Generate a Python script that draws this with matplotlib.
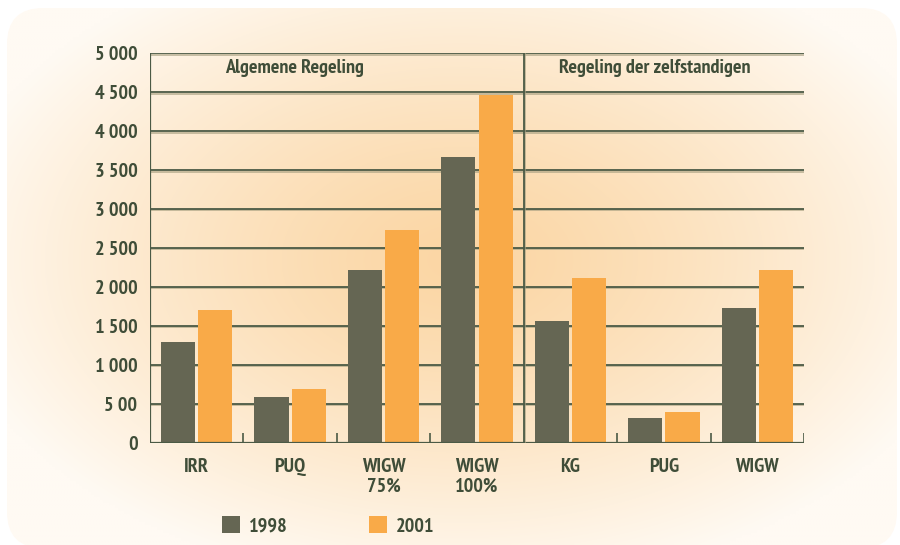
import matplotlib
matplotlib.use('Agg')
import matplotlib.pyplot as plt
import matplotlib.patheffects as pe
from matplotlib import font_manager
from matplotlib.patches import FancyBboxPatch, Patch
import numpy as np

# data
categories = ['IRR', 'PUQ', 'WIGW\n75%', 'WIGW\n100%', 'KG', 'PUG', 'WIGW']
vals_1998 = [1290, 590, 2220, 3670, 1560, 320, 1730]
vals_2001 = [1700, 690, 2730, 4470, 2110, 390, 2220]
series_names = ['1998', '2001']
group_names = ['Algemene Regeling', 'Regeling der zelfstandigen']
ytick_vals = [0, 500, 1000, 1500, 2000, 2500, 3000, 3500, 4000, 4500, 5000]
ytick_labels = ['0', '5 00', '1 000', '1 500', '2 000', '2 500',
                '3 000', '3 500', '4 000', '4 500', '5 000']

# styling
dark = '#656653'
orange = '#f9aa48'
line_col = '#4b5a45'
text_col = '#3f4d38'


# the original uses a condensed semi-bold sans, find the closest installed face
def wnum(w):
    return w if isinstance(w, int) else font_manager.weight_dict.get(w, 400)


cands = [f for f in font_manager.fontManager.ttflist
         if ('Narrow' in f.fname or 'Condensed' in f.fname)
         and f.style == 'normal' and 'Italic' not in f.fname and 'Oblique' not in f.fname]
face = None
if cands:
    face = min(cands, key=lambda f: (('Narrow' not in f.fname and 'Roboto' not in f.fname),
                                     abs(wnum(f.weight) - 650)))
if face is not None:
    fonts = [face.name, 'DejaVu Sans']
    stretch = face.stretch
    wt = wnum(face.weight)
else:
    fonts = ['Roboto', 'DejaVu Sans']
    stretch = 'normal'
    wt = 'bold'
fs = 14.5
plt.rcParams['font.family'] = fonts
plt.rcParams['font.stretch'] = stretch

fig = plt.figure(figsize=(9, 5.45), dpi=100)
fig.patch.set_facecolor('white')

# background card with radial gradient
bg = fig.add_axes([0, 0, 1, 1])
bg.set_xlim(0, 900)
bg.set_ylim(545, 0)
bg.axis('off')
gx, gy = np.meshgrid(np.linspace(0, 900, 300), np.linspace(0, 545, 200))
r = np.sqrt(((gx - 460) / 520) ** 2 + ((gy - 260) / 330) ** 2)
r = np.clip(r, 0, 1)
c_in = np.array([251, 214, 164]) / 255
c_out = np.array([255, 250, 243]) / 255
img = c_in[None, None, :] * (1 - r[..., None] ** 1.3) + c_out[None, None, :] * (r[..., None] ** 1.3)
im = bg.imshow(img, extent=(0, 900, 545, 0), aspect='auto', interpolation='bilinear')
card = FancyBboxPatch((7, 8), 890, 540, boxstyle='round,pad=0,rounding_size=36',
                      transform=bg.transData, facecolor='none', edgecolor='none')
bg.add_patch(card)
im.set_clip_path(card)

# main axes
ax = fig.add_axes([150 / 900, 102.3 / 545, 654 / 900, 389.4 / 545])
ax.set_facecolor('none')
for s in ax.spines.values():
    s.set_visible(False)

x = np.arange(len(categories))
w = 0.365
ax.bar(x - 0.2, vals_1998, w, color=dark, zorder=2, label=series_names[0])
ax.bar(x + 0.2, vals_2001, w, color=orange, zorder=2, label=series_names[1])

shadow = [pe.SimpleLineShadow(offset=(0, -1.0), shadow_color='#a8a182', alpha=0.7), pe.Normal()]
ax.hlines(ytick_vals[1:], -0.5, len(categories) - 0.5, color=line_col, lw=1.3,
          zorder=1, path_effects=shadow)
ax.hlines(0, -0.5, len(categories) - 0.5, color=line_col, lw=1.6, zorder=3)
ax.vlines(-0.5, 0, 5000, color=line_col, lw=1.6, zorder=3)
ax.vlines(3.5, 0, 5000, color=line_col, lw=1.3, zorder=3,
          path_effects=[pe.SimpleLineShadow(offset=(1, 0), shadow_color='#a8a182', alpha=0.7), pe.Normal()])
# small boundary ticks on the base line
ax.vlines([0.5, 1.5, 2.5, 4.5, 5.5, 6.5], 0, 130, color=line_col, lw=1.2, zorder=3)

ax.set_xlim(-0.5, len(categories) - 0.5)
ax.set_ylim(0, 5000)
ax.set_yticks(ytick_vals)
ax.set_yticklabels(ytick_labels)
ax.set_xticks(x)
ax.set_xticklabels(categories, linespacing=1.1)
ax.tick_params(axis='y', length=0, pad=9, labelsize=fs, labelcolor=text_col)
ax.tick_params(axis='x', length=0, pad=11, labelsize=fs, labelcolor=text_col)
for lab in ax.get_xticklabels() + ax.get_yticklabels():
    lab.set_fontweight(wt)

ax.text(1.05, 4810, group_names[0], ha='center', va='center', fontsize=fs,
        color=text_col, fontweight=wt)
ax.text(4.9, 4810, group_names[1], ha='center', va='center', fontsize=fs,
        color=text_col, fontweight=wt)

handles = [Patch(facecolor=dark), Patch(facecolor=orange)]
fig.legend(handles, series_names, loc='center left', bbox_to_anchor=(212 / 900, 1 - 526 / 545),
           ncol=2, frameon=False, handlelength=0.9, handleheight=0.9,
           handletextpad=0.45, columnspacing=4.0, borderpad=0, labelcolor=text_col,
           prop={'weight': wt, 'size': fs, 'family': fonts, 'stretch': stretch})

fig.savefig('out.png', dpi=100, facecolor='white')
